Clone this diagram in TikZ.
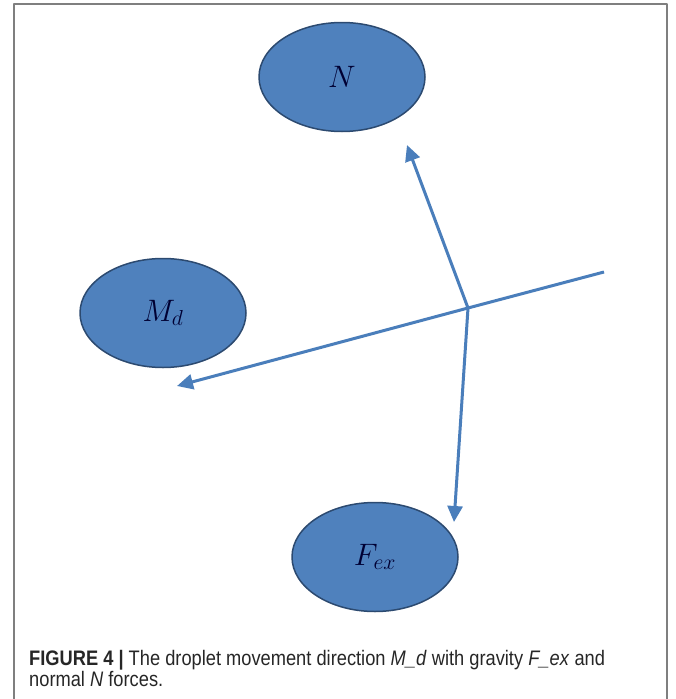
\RequirePackage{fix-cm}
\documentclass[tikz,border=0pt]{standalone}
\usepackage{fontspec}
\newfontfamily\capfont{Liberation Sans}[FakeStretch=0.87]
\usetikzlibrary{shapes.geometric,arrows.meta}
\definecolor{dropfill}{HTML}{4F81BD}
\definecolor{dropline}{HTML}{2C4A70}
\definecolor{forceline}{HTML}{4A7EBB}
\definecolor{framegray}{HTML}{7F7F7F}
\tikzset{
  drop/.style={ellipse,draw=dropline,fill=dropfill,line width=1.5pt,
    minimum width=166pt,minimum height=109pt,inner sep=0pt,
    font=\fontsize{31}{31}\selectfont,text=black!80!blue},
  force/.style={draw=forceline,line width=3pt,-{Triangle[length=16pt,width=15pt]}},
  capline/.style={anchor=base west,inner sep=0pt,text=black!85,
    font=\capfont\fontsize{21}{24}\selectfont}
}
\begin{document}
\begin{tikzpicture}[x=1pt,y=-1pt,line join=round]
	\useasboundingbox (0,0) rectangle (675,699);
	% cadre de la figure
	\draw[framegray,line width=1.5pt] (14,701) -- (14,4) -- (667,4) -- (667,701);
	% les trois gouttes
	\node[drop] (N) at (342,77) {$N$};
	\node[drop] (Md) at (163,313) {$M_d$};
	\node[drop] (Fex) at (375,557) {$F_{ex}$};
	\path
	(468,308) coordinate (C)
	(604,272) coordinate (R)
	(407,145) coordinate (tipN)
	(177,386) coordinate (tipM)
	(454,522) coordinate (tipF);
	% forces
	\draw[force] (R) -- (C) -- (tipM);
	\draw[force] (C) -- (tipN);
	\draw[force] (C) -- (tipF);
	% legende
	\node[capline] (cap1) at (29,665) {\textbf{FIGURE 4 |} The droplet movement direction \textit{M\_d} with gravity \textit{F\_ex} and};
	\node[capline] (cap2) at (29,686) {normal \textit{N} forces.};
\end{tikzpicture}
\end{document}
